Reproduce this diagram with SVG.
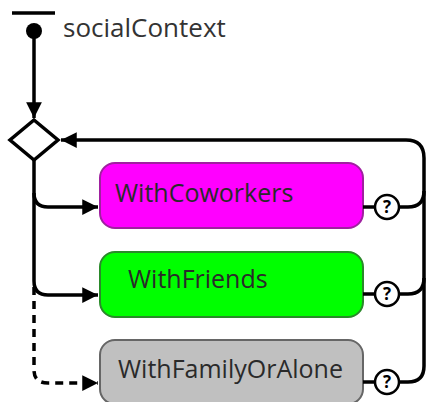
<svg xmlns="http://www.w3.org/2000/svg" width="427" height="402" viewBox="0 0 427 402">
  <style>
    .ln { fill: none; stroke: #000; stroke-width: 3.5; stroke-linejoin: round; }
    .dash { stroke-dasharray: 8 6; }
    .box { stroke-width: 2; }
    .lbl { font-family: "Open Sans", "Noto Sans", sans-serif; font-size: 25px; fill: #2a2a2a; }
    .q { fill: #fff; stroke: #000; stroke-width: 2.5; }
    .qt { font-family: "Open Sans", "Noto Sans", sans-serif; font-size: 17px; font-weight: bold; fill: #000; text-anchor: middle; }
  </style>
  <defs>
    <marker id="arr" viewBox="0 0 10 10" refX="10" refY="5" markerWidth="4.5" markerHeight="4.5" markerUnits="strokeWidth" orient="auto">
      <path d="M0,0 L10,5 L0,10 Z" fill="#000"/>
    </marker>
  </defs>

  <!-- start symbol -->
  <g id="start">
    <line x1="12" y1="13" x2="55" y2="13" stroke="#000" stroke-width="3.5"/>
    <circle cx="34" cy="31" r="8" fill="#000"/>
    <text x="63" y="37" font-family="Open Sans, Noto Sans, sans-serif" font-size="26" fill="#333">socialContext</text>
  </g>

  <!-- choice diamond -->
  <g id="choice">
    <polygon points="34,120 58,140 34,160 10,140" fill="#fff" stroke="#000" stroke-width="3.5" stroke-linejoin="miter"/>
  </g>

  <g id="coworkers">
    <rect class="box" x="100" y="163" width="263" height="65" rx="15" fill="#ff00ff" stroke="#a020a0"/>
    <text class="lbl" x="115" y="202">WithCoworkers</text>
    <circle class="q" cx="387" cy="207" r="12"/>
    <text class="qt" x="387" y="213">?</text>
  </g>

  <g id="friends">
    <rect class="box" x="100" y="252" width="263" height="65" rx="15" fill="#00ff00" stroke="#2a8a2a"/>
    <text class="lbl" x="128" y="288">WithFriends</text>
    <circle class="q" cx="387" cy="294" r="12"/>
    <text class="qt" x="387" y="300">?</text>
  </g>

  <g id="familyOrAlone">
    <rect class="box" x="100" y="340" width="263" height="64" rx="15" fill="#c0c0c0" stroke="#666"/>
    <text class="lbl" x="118" y="378">WithFamilyOrAlone</text>
    <circle class="q" cx="387" cy="382" r="12"/>
    <text class="qt" x="387" y="388">?</text>
  </g>

  <g id="connectors">
    <!-- start to choice -->
    <path class="ln" d="M34,38 L34,118" marker-end="url(#arr)"/>
    <!-- choice to branches -->
    <path class="ln" d="M34,160 L34,193 Q34,207 48,207 L98,207" marker-end="url(#arr)"/>
    <path class="ln" d="M34,193 L34,281 Q34,295 48,295 L98,295" marker-end="url(#arr)"/>
    <path class="ln dash" d="M34,287 L34,370 Q34,383 48,383 L98,383" marker-end="url(#arr)"/>
    <!-- box to optional marker -->
    <line class="ln" x1="363" y1="207" x2="375" y2="207"/>
    <line class="ln" x1="363" y1="294" x2="375" y2="294"/>
    <line class="ln" x1="363" y1="382" x2="375" y2="382"/>
    <!-- loop back to choice -->
    <path class="ln" d="M399,207 L408,207 Q424,207 424,191 L424,158 Q424,140 406,140 L61,140" marker-end="url(#arr)"/>
    <path class="ln" d="M399,294 L408,294 Q424,294 424,278 L424,191"/>
    <path class="ln" d="M399,382 L408,382 Q424,382 424,366 L424,278"/>
  </g>
</svg>
